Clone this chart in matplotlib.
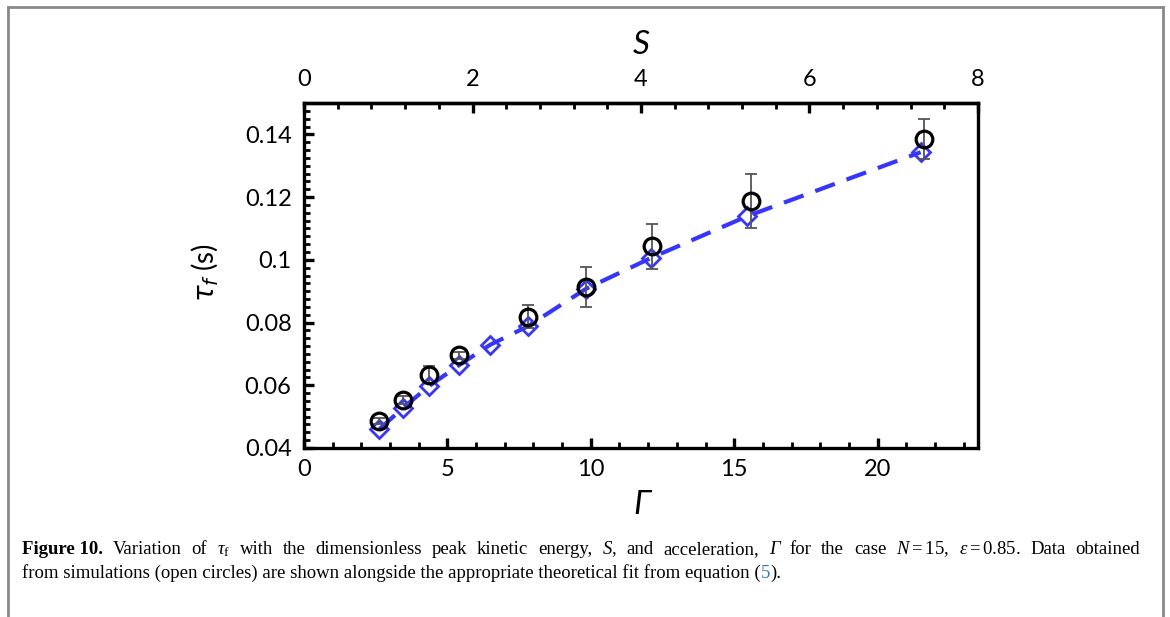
import numpy as np
import matplotlib
matplotlib.use("Agg")
import matplotlib.pyplot as plt
from matplotlib.lines import Line2D
from matplotlib.ticker import MultipleLocator

# datos
gamma = [2.63, 3.44, 4.37, 5.42, 7.80, 9.84, 12.15, 15.59, 21.62]
tau_sim = [0.0486, 0.0553, 0.0633, 0.0695, 0.0819, 0.0912, 0.1043, 0.1187, 0.1386]
tau_err = [0.0010, 0.0012, 0.0027, 0.0010, 0.0037, 0.0064, 0.0072, 0.0087, 0.0064]

gamma_fit = [2.63, 3.44, 4.37, 5.42, 6.49, 7.80, 9.84, 12.10, 15.45, 21.50]
tau_fit = [0.0460, 0.0527, 0.0598, 0.0665, 0.0729, 0.0788, 0.0908, 0.1006, 0.1139, 0.1343]

x_ticks = [0, 5, 10, 15, 20]
y_ticks = [0.04, 0.06, 0.08, 0.1, 0.12, 0.14]
y_labels = ["0.04", "0.06", "0.08", "0.1", "0.12", "0.14"]
s_ticks = [0, 2, 4, 6, 8]

G_MAX = 23.5
S_MAX = 8.0

plt.rcParams['font.family'] = ['Lato', 'DejaVu Sans']
plt.rcParams['mathtext.fontset'] = 'custom'
plt.rcParams['mathtext.rm'] = 'Liberation Serif'
plt.rcParams['mathtext.it'] = 'Liberation Serif:italic'
plt.rcParams['mathtext.bf'] = 'Liberation Serif:bold'

fig = plt.figure(figsize=(11.7, 6.17), dpi=100)
ax = fig.add_axes([304/1170, 1 - 448/617, (978-304)/1170, (448-103)/617])

blue = '#3535ff'
ax.plot(gamma_fit, tau_fit, ls=(0, (5, 3)), lw=3, color=blue, zorder=2,
        marker='D', markersize=9, mfc='none', mec=blue, mew=2)
ax.errorbar(gamma, tau_sim, yerr=tau_err, fmt='none', ecolor='#555555',
            elinewidth=1.3, capsize=4, capthick=1.3, zorder=3)
ax.plot(gamma, tau_sim, ls='none', marker='o', markersize=12, mfc='none',
        mec='black', mew=2.3, zorder=4)

ax.set_xlim(0, G_MAX)
ax.set_ylim(0.04, 0.15)
ax.set_xticks(x_ticks)
ax.set_yticks(y_ticks)
ax.set_yticklabels(y_labels)
ax.xaxis.set_minor_locator(MultipleLocator(1))
ax.yaxis.set_minor_locator(MultipleLocator(0.0025))

for s in ax.spines.values():
    s.set_linewidth(2.4)

ax.tick_params(which='both', direction='in', top=False, right=False,
               labelsize=17, width=2)
ax.tick_params(which='major', length=7, width=2.4)
ax.tick_params(which='minor', length=4.5)
ax.tick_params(axis='x', pad=8)
ax.tick_params(axis='y', pad=9)

sec = ax.secondary_xaxis('top', functions=(lambda g: np.asarray(g) * S_MAX / G_MAX,
                                           lambda s: np.asarray(s) * G_MAX / S_MAX))
sec.set_xticks(s_ticks)
sec.xaxis.set_minor_locator(MultipleLocator(0.4))
sec.tick_params(which='both', direction='in', labelsize=17)
sec.tick_params(which='major', length=7, width=2.4, pad=9)
sec.tick_params(which='minor', length=4.5, width=2)
sec.spines['top'].set_linewidth(2.4)

fig.text(641/1170, 1 - 45/617, 'S', fontsize=24, style='italic',
         ha='center', va='center')
fig.text(642/1170, 1 - 505/617, '\u0393', fontsize=24, style='italic',
         ha='center', va='center', family=['Lato', 'DejaVu Sans'])
fig.text(205/1170, 1 - 273/617, r'$\tau_f$ (s)', fontsize=20, rotation=90,
         ha='center', va='center', math_fontfamily='dejavusans')

# marco de la página
kw = dict(color='#8a8a8a', lw=2, transform=fig.transFigure)
fig.add_artist(Line2D([8/1170, 8/1170], [0, 1 - 7/617], **kw))
fig.add_artist(Line2D([8/1170, 1163/1170], [1 - 7/617, 1 - 7/617], **kw))
fig.add_artist(Line2D([1163/1170, 1163/1170], [0, 1 - 7/617], **kw))

# pie de figura (primera línea justificada)
CAP_FS = 13.5
cap_kw = dict(fontsize=CAP_FS, family='Liberation Serif', ha='left',
              va='baseline', math_fontfamily='custom')
linea1 = [("Figure 10.", 'bold', 'normal'),
          ("Variation", 'normal', 'normal'), ("of", 'normal', 'normal'),
          (r"$\tau_{\rm f}$", 'normal', 'normal'), ("with", 'normal', 'normal'),
          ("the", 'normal', 'normal'), ("dimensionless", 'normal', 'normal'),
          ("peak", 'normal', 'normal'), ("kinetic", 'normal', 'normal'),
          ("energy,", 'normal', 'normal'), ("$S$,", 'normal', 'normal'),
          ("and", 'normal', 'normal'), ("acceleration,", 'normal', 'normal'),
          ("\u0393", 'normal', 'italic'), ("for", 'normal', 'normal'),
          ("the", 'normal', 'normal'), ("case", 'normal', 'normal'),
          ("$N = 15$,", 'normal', 'normal'), (r"$\varepsilon = 0.85$.", 'normal', 'normal'),
          ("Data", 'normal', 'normal'), ("obtained", 'normal', 'normal')]

x0, x1 = 22/1170, 1140/1170
y1 = 1 - 554/617
textos = [fig.text(x0, y1, w, fontweight=fw, style=st, **cap_kw) for w, fw, st in linea1]
fig.canvas.draw()
inv = fig.transFigure.inverted()
anchos = [t.get_window_extent().transformed(inv).width for t in textos]
hueco = (x1 - x0 - sum(anchos)) / (len(textos) - 1)
x = x0
for t, w in zip(textos, anchos):
    t.set_x(x)
    x += w + hueco

y2 = 1 - 578/617
cap2a = "from simulations (open circles) are shown alongside the appropriate theoretical fit from equation ("
t = fig.text(x0, y2, cap2a, **cap_kw)
fig.canvas.draw()
bb = t.get_window_extent().transformed(inv)
t2 = fig.text(bb.x1, y2, "5", color='#2a7fb8', **cap_kw)
fig.canvas.draw()
bb2 = t2.get_window_extent().transformed(inv)
fig.text(bb2.x1, y2, ").", **cap_kw)

fig.savefig('out.png', dpi=100)
